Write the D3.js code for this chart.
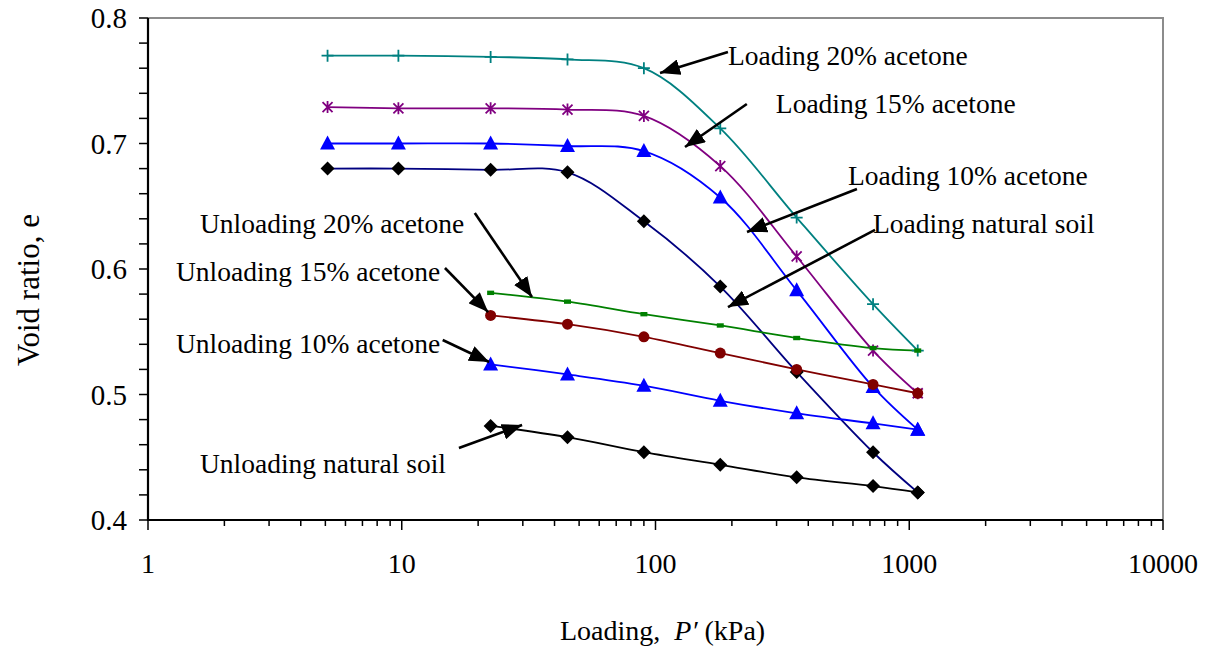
<!DOCTYPE html>
<html>
<head>
<meta charset="utf-8">
<script src="https://cdn.jsdelivr.net/npm/d3@7"></script>
<style>
  html, body { margin: 0; padding: 0; background: #fff; }
  svg text { font-family: "Liberation Serif", "Times New Roman", serif; fill: #000; }
</style>
</head>
<body>
<div id="chart"></div>
<script>
// Void ratio vs loading (log scale) – loading / unloading curves

// ---- data ----
const pressLoad   = [5.1, 9.7, 22.4, 45, 90, 180, 360, 720, 1080];
const pressUnload = [22.4, 45, 90, 180, 360, 720, 1080];

const load20  = [0.770, 0.770, 0.769, 0.767, 0.760, 0.712, 0.641, 0.572, 0.535];
const load15  = [0.729, 0.728, 0.728, 0.727, 0.722, 0.682, 0.610, 0.535, 0.501];
const load10  = [0.700, 0.700, 0.700, 0.698, 0.694, 0.657, 0.583, 0.506, 0.472];
const loadNat = [0.680, 0.680, 0.679, 0.677, 0.638, 0.586, 0.518, 0.454, 0.422];

const unload20  = [0.581, 0.574, 0.564, 0.555, 0.545, 0.537, 0.535];
const unload15  = [0.563, 0.556, 0.546, 0.533, 0.520, 0.508, 0.501];
const unload10  = [0.524, 0.516, 0.507, 0.495, 0.485, 0.477, 0.472];
const unloadNat = [0.475, 0.466, 0.454, 0.444, 0.434, 0.427, 0.422];

const xTickLabels = ["1", "10", "100", "1000", "10000"];
const yTickLabels = ["0.4", "0.5", "0.6", "0.7", "0.8"];

// annotation text: [label, P at text start, e at baseline]
const labels = [
  ["Loading 20% acetone",   193,   0.7625],
  ["Loading 15% acetone",   298,   0.7243],
  ["Loading 10% acetone",   574,   0.6669],
  ["Loading natural soil",  720,   0.6287],
  ["Unloading 20% acetone", 1.603, 0.6287],
  ["Unloading 15% acetone", 1.289, 0.5904],
  ["Unloading 10% acetone", 1.289, 0.5331],
  ["Unloading natural soil",1.603, 0.4375]
];
// arrows: [P tail, e tail, P tip, e tip]
const arrows = [
  [193,  0.7729, 104.2, 0.7562],
  [229,  0.7315, 130.7, 0.6972],
  [622,  0.6637, 229.4, 0.6295],
  [733,  0.6311, 193,   0.5697],
  [19.4, 0.6446, 32.6,  0.5777],
  [14.8, 0.6008, 21.9,  0.5657],
  [14.5, 0.5434, 22.1,  0.5259],
  [16.8, 0.4574, 29.8,  0.4757]
];

// ---- layout ----
const width = 1208, height = 656;
const margin = { top: 18, right: 45, bottom: 136, left: 148 };

const x = d3.scaleLog().domain([1, 10000])
  .range([margin.left, width - margin.right]);
const y = d3.scaleLinear().domain([0.4, 0.8])
  .range([height - margin.bottom, margin.top]);

const svg = d3.select("#chart").append("svg")
  .attr("width", width).attr("height", height)
  .style("display", "block");

svg.append("rect").attr("width", width).attr("height", height).attr("fill", "#fff");

// frame (top + right in grey)
svg.append("path")
  .attr("d", `M${x(1)},${y(0.8)}H${x(10000)}V${y(0.4)}`)
  .attr("fill", "none").attr("stroke", "#8c8c8c").attr("stroke-width", 2);

// ---- axes ----
const xTicks = [];
for (let k = 0; k < 4; k++) for (let m = 1; m < 10; m++) xTicks.push(m * Math.pow(10, k));
xTicks.push(10000);

const gx = svg.append("g");
gx.selectAll("line").data(xTicks).join("line")
  .attr("x1", d => x(d)).attr("x2", d => x(d))
  .attr("y1", y(0.4))
  .attr("y2", d => y(0.4) + (Math.log10(d) % 1 === 0 ? 10 : 6))
  .attr("stroke", "#000").attr("stroke-width", 1.5);
gx.append("line")
  .attr("x1", x(1)).attr("x2", x(10000)).attr("y1", y(0.4)).attr("y2", y(0.4))
  .attr("stroke", "#000").attr("stroke-width", 2.2);
gx.selectAll("text").data(xTickLabels).join("text")
  .attr("x", d => x(+d)).attr("y", y(0.4) + 53)
  .attr("text-anchor", "middle").attr("font-size", 28)
  .text(d => d);

const yTicks = d3.range(0, 21).map(i => 0.4 + i * 0.02);
const gy = svg.append("g");
gy.selectAll("line").data(yTicks).join("line")
  .attr("x1", x(1) - 9).attr("x2", x(1))
  .attr("y1", d => y(d)).attr("y2", d => y(d))
  .attr("stroke", "#000").attr("stroke-width", 1.5);
gy.append("line")
  .attr("x1", x(1)).attr("x2", x(1)).attr("y1", y(0.8)).attr("y2", y(0.4) + 1)
  .attr("stroke", "#000").attr("stroke-width", 2.2);
gy.selectAll("text").data(yTickLabels).join("text")
  .attr("x", x(1) - 21).attr("y", d => y(+d))
  .attr("dy", "0.35em")
  .attr("text-anchor", "end").attr("font-size", 29)
  .text(d => d);

// axis titles
svg.append("text")
  .attr("transform", `translate(39,${(y(0.8) + y(0.4)) / 2 + 21}) rotate(-90)`)
  .attr("text-anchor", "middle").attr("font-size", 31)
  .text("Void ratio, e");

const xt = svg.append("text")
  .attr("x", 560).attr("y", 640).attr("font-size", 28);
xt.append("tspan").text("Loading,\u00a0\u00a0");
xt.append("tspan").attr("font-style", "italic").text("P\u2032");
xt.append("tspan").text(" (kPa)");

// ---- series ----
const plus = "M-6,0H6M0,-6V6";
const star = "M-5,-5L5,5M-5,5L5,-5M0,-6V6";
const tri = "M0,-8L7.5,6H-7.5Z";
const diamond = "M0,-7L7,0L0,7L-7,0Z";
const dash = "M-3.5,-2.2H3.5V2.2H-3.5Z";

const series = [
  { p: pressLoad,   e: loadNat,   line: "#000080", mark: diamond, fill: "#000",    stroke: "none" },
  { p: pressLoad,   e: load10,    line: "#0000ff", mark: tri,     fill: "#0000ff", stroke: "none" },
  { p: pressLoad,   e: load15,    line: "#800080", mark: star,    fill: "none",    stroke: "#800080" },
  { p: pressLoad,   e: load20,    line: "#008080", mark: plus,    fill: "none",    stroke: "#008080" },
  { p: pressUnload, e: unloadNat, line: "#000000", mark: diamond, fill: "#000",    stroke: "none" },
  { p: pressUnload, e: unload10,  line: "#0000ff", mark: tri,     fill: "#0000ff", stroke: "none" },
  { p: pressUnload, e: unload15,  line: "#800000", mark: null,    fill: "#800000", stroke: "none" },
  { p: pressUnload, e: unload20,  line: "#008000", mark: dash,    fill: "#008000", stroke: "none" }
];

const lineGen = d3.line()
  .x(d => x(d[0])).y(d => y(d[1]))
  .curve(d3.curveCatmullRom.alpha(0.5));

series.forEach(s => {
  const pts = s.p.map((p, i) => [p, s.e[i]]);
  svg.append("path").datum(pts)
    .attr("d", lineGen)
    .attr("fill", "none").attr("stroke", s.line).attr("stroke-width", 1.8);
});

series.forEach(s => {
  const pts = s.p.map((p, i) => [p, s.e[i]]);
  const g = svg.append("g");
  if (s.mark === null) {
    g.selectAll("circle").data(pts).join("circle")
      .attr("cx", d => x(d[0])).attr("cy", d => y(d[1])).attr("r", 5.5)
      .attr("fill", s.fill);
  } else {
    g.selectAll("path").data(pts).join("path")
      .attr("transform", d => `translate(${x(d[0])},${y(d[1])})`)
      .attr("d", s.mark)
      .attr("fill", s.fill).attr("stroke", s.stroke).attr("stroke-width", 1.8);
  }
});

// ---- annotations ----
svg.append("defs").append("marker")
  .attr("id", "ah").attr("markerUnits", "userSpaceOnUse")
  .attr("viewBox", "0 0 20 16").attr("refX", 20).attr("refY", 8)
  .attr("markerWidth", 20).attr("markerHeight", 16).attr("orient", "auto")
  .append("path").attr("d", "M0,0L20,8L0,16Z").attr("fill", "#000");

svg.append("g").selectAll("line").data(arrows).join("line")
  .attr("x1", d => x(d[0])).attr("y1", d => y(d[1]))
  .attr("x2", d => x(d[2])).attr("y2", d => y(d[3]))
  .attr("stroke", "#000").attr("stroke-width", 2.6)
  .attr("marker-end", "url(#ah)");

svg.append("g").selectAll("text").data(labels).join("text")
  .attr("x", d => x(d[1])).attr("y", d => y(d[2]))
  .attr("font-size", 27.5)
  .text(d => d[0]);
</script>
</body>
</html>
